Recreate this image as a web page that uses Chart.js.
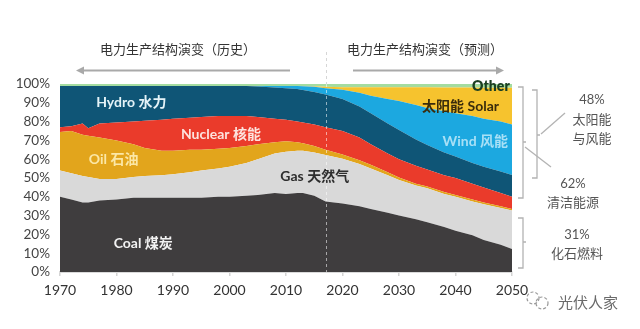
<!DOCTYPE html>
<html><head><meta charset="utf-8">
<script src="https://cdn.jsdelivr.net/npm/chart.js@4.4.0/dist/chart.umd.min.js"></script>
<style>html,body{margin:0;padding:0;background:#fff;overflow:hidden}</style>
</head><body>
<canvas id="c" width="640" height="329" style="width:640px;height:329px;display:block"></canvas>
<script>
// Share of electricity production (%) by source
const years = [1970,1972,1974,1975,1977,1980,1983,1985,1988,1990,1993,1995,1998,2000,2003,2005,2008,2010,2012,2013,2015,2017,2020,2023,2025,2028,2030,2033,2035,2038,2040,2043,2045,2048,2050];
const coal    = [40,38.5,37,37,38,38.5,39.5,39.5,39.5,39.5,39.5,39.5,40,40,40.5,41,42,41.5,42,42,40.5,37.5,36.5,35,33.5,31.5,30,28,26.5,24,22,19.5,17,14.5,12.3];
const gas     = [14,14,14,13.5,11.5,11,11,11.5,12,12.5,13.5,14.5,15,16,17.5,19,21,22.5,22.5,22.5,23,24.8,23.8,22.5,21.5,20,19,18,18,17.5,18,18,19,19.5,20.4];
const oil     = [20.5,22.5,22,22,22,20.5,17.5,15,13,12.5,12,11,10.5,10,9,8,6,5.5,4.5,4,3.5,2.7,2.2,2,2,1.5,1.2,1,1,1,1,1,1,1,0.8];
const nuclear = [2.5,2.5,6,4,7.5,9.5,12,14.5,16.5,17,17,17.5,17.5,17,16,14.5,12.5,11.5,11,11,11.5,12,12.5,12,11,10,9.8,9.5,9,9,9,8.5,8,7,6.5];
const hydro   = [22,21.5,20,22.5,20,19.5,19,18.5,18,17.5,17,16.5,16,16,16,16.2,16.7,16.8,17.3,17.3,17.3,17.4,17,16.5,16.5,16,15.5,14,13,12,11.5,11,11,11.5,11.6];
const wind    = [0,0,0,0,0,0,0,0,0,0,0,0,0,0,0,0.3,0.8,1.1,1.6,2.0,2.7,3.4,5,7.3,9.3,13,15.5,18.3,19.8,22,23,25,25.5,26.5,26.9];
const solar   = [0,0,0,0,0,0,0,0,0,0,0,0,0,0,0,0,0,0.1,0.1,0.2,0.3,0.7,1.3,3,4.5,6.3,7.3,9.5,11,12.7,13.7,15.1,16.5,18,19.5];
const other   = [1,1,1,1,1,1,1,1,1,1,1,1,1,1,1,1,1,1,1,1,1.2,1.5,1.7,1.7,1.7,1.7,1.7,1.7,1.7,1.8,1.8,1.9,2,2,2];
const xTicks = [1970,1980,1990,2000,2010,2020,2030,2040,2050];
const yTicks = [0,10,20,30,40,50,60,70,80,90,100];
const splitYear = 2017;

const seriesList = [
  {name:'Coal', data:coal, color:'#3f3d3e'},
  {name:'Gas', data:gas, color:'#d9d9d9'},
  {name:'Oil', data:oil, color:'#e2a51c'},
  {name:'Nuclear', data:nuclear, color:'#ea3b2b'},
  {name:'Hydro', data:hydro, color:'#0f5576'},
  {name:'Wind', data:wind, color:'#1ca8e0'},
  {name:'Solar', data:solar, color:'#f6c32e'},
  {name:'Other', data:other, color:'#a4dca0'}
];

const CJK = '"Noto Sans CJK SC"';
const annot = {
  id:'annot',
  afterDatasetsDraw(chart){
    const ctx = chart.ctx, xs = chart.scales.x, ys = chart.scales.y, a = chart.chartArea;
    // dashed split line
    const sx = Math.round(xs.getPixelForValue(splitYear)) + 0.5;
    ctx.save();
    ctx.setLineDash([3,3]);
    ctx.lineWidth = 1;
    ctx.strokeStyle = '#d6d6d6';
    ctx.beginPath(); ctx.moveTo(sx, 52); ctx.lineTo(sx, a.top); ctx.stroke();
    ctx.strokeStyle = 'rgba(255,255,255,0.55)';
    ctx.beginPath(); ctx.moveTo(sx, a.top); ctx.lineTo(sx, a.bottom); ctx.stroke();
    ctx.restore();
    // in-area labels
    const lab = (t, yr, pct, color, align, weight) => {
      ctx.save();
      ctx.font = (weight||'700') + ' 14px Lato, ' + CJK;
      ctx.fillStyle = color; ctx.textAlign = align; ctx.textBaseline = 'middle';
      ctx.fillText(t, xs.getPixelForValue(yr), ys.getPixelForValue(pct));
      ctx.restore();
    };
    lab('Hydro 水力', 1976.4, 90.1, '#e4f3f8', 'left');
    lab('Nuclear 核能', 1991.4, 73, '#fde3de', 'left');
    lab('Oil 石油', 1975.1, 60, '#fbe7a6', 'left');
    lab('Gas 天然气', 2009.0, 50.7, '#2e2e2e', 'left');
    lab('Coal 煤炭', 1979.5, 15.4, '#f2f2f2', 'left');
    lab('Other', 2049.6, 98.6, '#1b3f22', 'right', '800');
    lab('太阳能 Solar', 2047.7, 87.8, '#3a2c0c', 'right');
    lab('Wind 风能', 2049.3, 69.4, '#a8e0f6', 'right');
  },
  afterDraw(chart){
    const ctx = chart.ctx;
    ctx.save();
    // titles
    ctx.font = '13px ' + CJK;
    ctx.fillStyle = '#333'; ctx.textBaseline = 'middle'; ctx.textAlign = 'center';
    ctx.fillText('电力生产结构演变（历史）', 178, 49);
    ctx.fillText('电力生产结构演变（预测）', 425, 49);
    // arrows
    ctx.strokeStyle = '#a9a9a9'; ctx.fillStyle = '#a9a9a9'; ctx.lineWidth = 2;
    ctx.beginPath(); ctx.moveTo(290, 70.5); ctx.lineTo(82, 70.5); ctx.stroke();
    ctx.beginPath(); ctx.moveTo(76, 70.5); ctx.lineTo(84, 66.5); ctx.lineTo(84, 74.5); ctx.closePath(); ctx.fill();
    ctx.beginPath(); ctx.moveTo(353, 70.5); ctx.lineTo(498, 70.5); ctx.stroke();
    ctx.beginPath(); ctx.moveTo(504, 70.5); ctx.lineTo(496, 66.5); ctx.lineTo(496, 74.5); ctx.closePath(); ctx.fill();
    // brackets
    ctx.strokeStyle = '#b3b3b3'; ctx.lineWidth = 1.3;
    const bracket = (x, y1, y2, dir, mid) => {
      ctx.beginPath();
      ctx.moveTo(x - 5*dir, y1); ctx.lineTo(x, y1); ctx.lineTo(x, y2); ctx.lineTo(x - 5*dir, y2);
      ctx.moveTo(x, mid); ctx.lineTo(x + 3*dir, mid);
      ctx.stroke();
    };
    bracket(523, 87, 198, 1, 142);
    bracket(537, 90, 178, 1, 135);
    bracket(523, 218, 268, 1, 242);
    ctx.beginPath(); ctx.moveTo(525, 147); ctx.lineTo(551, 167); ctx.stroke();
    ctx.beginPath(); ctx.moveTo(541, 134); ctx.lineTo(565, 113); ctx.stroke();
    // right texts
    ctx.fillStyle = '#555'; ctx.font = '13px Lato, ' + CJK;
    ctx.fillText('48%', 592, 100);
    ctx.fillText('太阳能', 592, 120);
    ctx.fillText('与风能', 592, 139);
    ctx.fillText('62%', 573, 184);
    ctx.fillText('清洁能源', 573, 203);
    ctx.fillText('31%', 577, 235);
    ctx.fillText('化石燃料', 577, 254);
    // watermark
    ctx.font = '15px ' + CJK; ctx.fillStyle = '#6a6a6a';
    ctx.fillText('光伏人家', 588, 302);
    ctx.strokeStyle = '#999'; ctx.lineWidth = 1.2;
    ctx.setLineDash([3,2]);
    ctx.beginPath(); ctx.arc(533, 298, 6, 0, Math.PI*2); ctx.stroke();
    ctx.beginPath(); ctx.arc(542, 303, 6, 0, Math.PI*2); ctx.stroke();
    ctx.restore();
  }
};

new Chart(document.getElementById('c'), {
  type: 'line',
  data: {
    datasets: seriesList.map((s, i) => ({
      label: s.name,
      data: years.map((yr, k) => ({x: yr, y: s.data[k]})),
      backgroundColor: s.color,
      borderColor: 'rgba(0,0,0,0)',
      borderWidth: 0,
      pointRadius: 0,
      tension: 0,
      fill: i === 0 ? 'origin' : '-1'
    }))
  },
  options: {
    responsive: false,
    animation: false,
    devicePixelRatio: 1,
    layout: {padding: {top: 84, right: 128, left: 0, bottom: 0}},
    plugins: {legend: {display: false}, tooltip: {enabled: false}},
    scales: {
      x: {
        type: 'linear', min: 1970, max: 2050,
        afterBuildTicks: s => { s.ticks = xTicks.map(v => ({value: v})); },
        ticks: {callback: v => String(v), color: '#333', font: {family: 'Lato', size: 14}, padding: 6, maxRotation: 0, autoSkip: false},
        grid: {drawOnChartArea: false, drawTicks: true, tickLength: 4, color: '#d4d4d4', lineWidth: 1.5},
        border: {display: true, color: '#dadada', width: 2},
        afterFit: s => { s.height = 57; }
      },
      y: {
        stacked: true, min: 0, max: 100,
        afterBuildTicks: s => { s.ticks = yTicks.map(v => ({value: v})); },
        ticks: {callback: v => v + '%', color: '#444', font: {family: 'Lato', size: 13.5}, padding: 10, autoSkip: false},
        grid: {display: false, drawTicks: false},
        border: {display: false},
        afterFit: s => { s.width = 60; }
      }
    }
  },
  plugins: [annot]
});
</script>
</body></html>
